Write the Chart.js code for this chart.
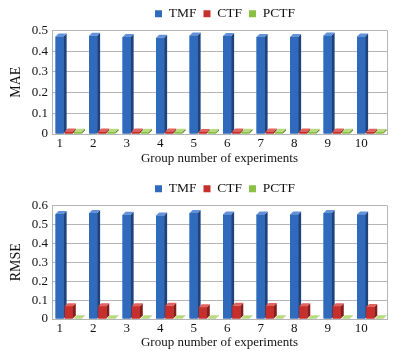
<!DOCTYPE html>
<html>
<head>
<meta charset="utf-8">
<script src="https://cdn.jsdelivr.net/npm/chart.js@4/dist/chart.umd.min.js"></script>
<style>
  html, body { margin: 0; padding: 0; background: #fff; }
  body { width: 402px; height: 351px; position: relative; overflow: hidden; }
  .box { position: absolute; left: 0; width: 402px; }
  #top { top: 0; height: 170px; }
  #bottom { top: 170px; height: 181px; }
</style>
</head>
<body>
<div class="box" id="top"><canvas id="maeChart" width="402" height="170"></canvas></div>
<div class="box" id="bottom"><canvas id="rmseChart" width="402" height="181"></canvas></div>
<script>
const groups = ["1", "2", "3", "4", "5", "6", "7", "8", "9", "10"];

const maeTMF = [0.471, 0.475, 0.468, 0.465, 0.476, 0.474, 0.469, 0.469, 0.476, 0.471];
const maeCTF = [0.012, 0.012, 0.012, 0.012, 0.010, 0.012, 0.012, 0.012, 0.012, 0.011];
const maePCTF = [0.011, 0.011, 0.011, 0.011, 0.010, 0.011, 0.011, 0.011, 0.011, 0.010];

const rmseTMF = [0.555, 0.560, 0.551, 0.547, 0.560, 0.553, 0.553, 0.553, 0.560, 0.553];
const rmseCTF = [0.068, 0.068, 0.068, 0.070, 0.062, 0.070, 0.069, 0.068, 0.068, 0.064];
const rmsePCTF = [0.004, 0.004, 0.004, 0.004, 0.004, 0.004, 0.004, 0.004, 0.004, 0.004];

const maeTicks = ["0", "0.1", "0.2", "0.3", "0.4", "0.5"];
const rmseTicks = ["0", "0.1", "0.2", "0.3", "0.4", "0.5", "0.6"];

const FONT = "'Times New Roman', 'Liberation Serif', Times, serif";
const TEXT = "#111";
const GRID = "#b5b5b5";

// front / side / top colours for the fake 3d bars
const faces = [
  { front: "#2f6abd", side: "#1c427f", top: "#6392d8" },
  { front: "#c62f2c", side: "#871d1b", top: "#e2625e" },
  { front: "#8cbf45", side: "#5d852b", top: "#b6da7c" }
];
const DEPTH = 3;

const bar3d = {
  id: "bar3d",
  afterDatasetsDraw(chart) {
    const ctx = chart.ctx;
    const n = chart.data.labels.length;
    ctx.save();
    for (let j = 0; j < n; j++) {
      chart.data.datasets.forEach((ds, i) => {
        const bar = chart.getDatasetMeta(i).data[j];
        const { x, y, base, width } = bar.getProps(["x", "y", "base", "width"], true);
        const l = x - width / 2, r = x + width / 2;
        const f = faces[i];
        ctx.fillStyle = f.front;
        ctx.fillRect(l, y, width, base - y);
        ctx.fillStyle = f.side;
        ctx.beginPath();
        ctx.moveTo(r, y);
        ctx.lineTo(r + DEPTH, y - DEPTH);
        ctx.lineTo(r + DEPTH, base - DEPTH);
        ctx.lineTo(r, base);
        ctx.closePath();
        ctx.fill();
        ctx.fillStyle = f.top;
        ctx.beginPath();
        ctx.moveTo(l, y);
        ctx.lineTo(l + DEPTH, y - DEPTH);
        ctx.lineTo(r + DEPTH, y - DEPTH);
        ctx.lineTo(r, y);
        ctx.closePath();
        ctx.fill();
      });
    }
    ctx.restore();
  }
};

// right edge of the plot frame
const frame = {
  id: "frame",
  beforeDatasetsDraw(chart) {
    const { ctx, chartArea } = chart;
    ctx.save();
    ctx.strokeStyle = GRID;
    ctx.lineWidth = 1;
    ctx.beginPath();
    ctx.moveTo(chartArea.right + 0.5, chartArea.top);
    ctx.lineTo(chartArea.right + 0.5, chartArea.bottom);
    ctx.stroke();
    ctx.restore();
  }
};

// legend sits right of the canvas centre in the original
const legendShift = {
  id: "legendShift",
  afterLayout(chart) {
    chart.legend.left += 63;
  }
};

function makeChart(id, title, tmf, ctf, pctf, ticks, max, xHeight, padTop, titleBottom) {
  const ctx = document.getElementById(id).getContext("2d");
  new Chart(ctx, {
    type: "bar",
    data: {
      labels: groups,
      datasets: [
        { label: "TMF", data: tmf, backgroundColor: faces[0].front },
        { label: "CTF", data: ctf, backgroundColor: faces[1].front },
        { label: "PCTF", data: pctf, backgroundColor: faces[2].front }
      ]
    },
    options: {
      responsive: false,
      animation: false,
      layout: { padding: { left: 0, right: 15, top: padTop, bottom: 0 } },
      datasets: { bar: { categoryPercentage: 0.82, barPercentage: 0.88 } },
      plugins: {
        tooltip: { enabled: false },
        legend: {
          position: "top",
          labels: {
            color: TEXT,
            font: { family: FONT, size: 13.5 },
            boxWidth: 7,
            boxHeight: 7,
            padding: 7
          }
        }
      },
      scales: {
        x: {
          afterFit(scale) { scale.height = xHeight; },
          grid: { display: false, drawTicks: false },
          border: { color: GRID },
          ticks: { color: TEXT, font: { family: FONT, size: 13 }, padding: 2, labelOffset: -9, autoSkip: false, maxRotation: 0 },
          title: {
            display: true,
            text: "Group number of experiments",
            color: TEXT,
            font: { family: FONT, size: 13 },
            padding: { top: 0, bottom: titleBottom }
          }
        },
        y: {
          min: 0,
          max: max,
          afterFit(scale) { scale.width = 52; },
          grid: { color: GRID, drawTicks: false },
          border: { color: GRID },
          ticks: {
            stepSize: 0.1,
            autoSkip: false,
            color: TEXT,
            font: { family: FONT, size: 13 },
            padding: 4,
            callback: (v, i) => ticks[i]
          },
          title: {
            display: true,
            text: title,
            color: TEXT,
            font: { family: FONT, size: 14 },
            padding: { top: 8, bottom: 0 }
          }
        }
      }
    },
    plugins: [frame, bar3d, legendShift]
  });
}

makeChart("maeChart", "MAE", maeTMF, maeCTF, maePCTF, maeTicks, 0.5, 36, 0, 4);
makeChart("rmseChart", "RMSE", rmseTMF, rmseCTF, rmsePCTF, rmseTicks, 0.6, 32, 5, 1);
</script>
</body>
</html>
